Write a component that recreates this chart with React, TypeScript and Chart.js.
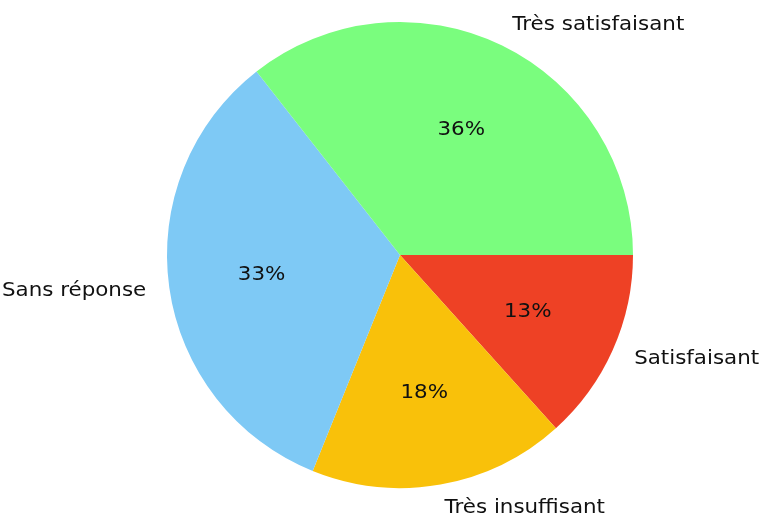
import React, { useEffect, useRef } from "react";
import { Chart, registerables } from "chart.js";

Chart.register(...registerables);

// Order as drawn clockwise from 3 o'clock (matplotlib draws counter-clockwise)
const labels = ["Satisfaisant", "Très insuffisant", "Sans réponse", "Très satisfaisant"];
const values = [6, 8, 15, 16];
const colors = ["#EE4125", "#F9C10A", "#7EC9F5", "#7AFD7E"];
const TEXT_SX = 1.07;

const labelPlugin = {
  id: "pieLabels",
  afterDraw(chart: any) {
    const ctx = chart.ctx;
    const meta = chart.getDatasetMeta(0);
    const data = chart.data.datasets[0].data as number[];
    const total = data.reduce((a, b) => a + b, 0);
    ctx.save();
    ctx.fillStyle = "#111111";
    ctx.font = '20px "DejaVu Sans"';
    ctx.textBaseline = "middle";
    meta.data.forEach((arc: any, i: number) => {
      const { x, y, startAngle, endAngle, outerRadius } = arc.getProps(
        ["x", "y", "startAngle", "endAngle", "outerRadius"],
        true
      );
      const mid = (startAngle + endAngle) / 2;
      const cx = Math.cos(mid);
      const cy = Math.sin(mid);
      // outer label
      const lx = x + cx * outerRadius * 1.1;
      const ly = y + cy * outerRadius * 1.1;
      ctx.save();
      ctx.translate(lx, ly);
      ctx.scale(TEXT_SX, 1);
      ctx.textAlign = cx > 0 ? "left" : "right";
      ctx.fillText(chart.data.labels[i], 0, 0);
      ctx.restore();
      // percent label
      const px = x + cx * outerRadius * 0.6;
      const py = y + cy * outerRadius * 0.6;
      const pct = Math.round((data[i] / total) * 100) + "%";
      ctx.save();
      ctx.translate(px, py);
      ctx.scale(TEXT_SX, 1);
      ctx.textAlign = "center";
      ctx.fillText(pct, 0, 0);
      ctx.restore();
    });
    ctx.restore();
  },
};

export default function App() {
  const ref = useRef<HTMLCanvasElement | null>(null);
  useEffect(() => {
    if (!ref.current) return;
    const chart = new Chart(ref.current, {
      type: "pie",
      data: {
        labels,
        datasets: [
          {
            data: values,
            backgroundColor: colors,
            borderWidth: 0,
          },
        ],
      },
      options: {
        responsive: false,
        animation: false,
        devicePixelRatio: 1,
        rotation: 90,
        layout: { padding: { left: 167, right: 128, top: 22, bottom: 32 } },
        plugins: {
          legend: { display: false },
          tooltip: { enabled: false },
        },
      },
      plugins: [labelPlugin],
    });
    return () => chart.destroy();
  }, []);
  return (
    <div style={{ position: "fixed", left: 0, top: 0, width: 761, height: 520, background: "#fff" }}>
      <canvas ref={ref} width={761} height={520} style={{ width: 761, height: 520, display: "block" }} />
    </div>
  );
}
